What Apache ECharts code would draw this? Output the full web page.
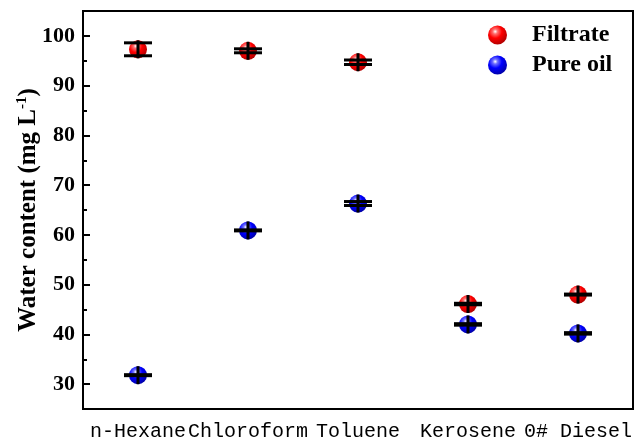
<!DOCTYPE html>
<html>
<head>
<meta charset="utf-8">
<script src="https://cdn.jsdelivr.net/npm/echarts@6/dist/echarts.min.js"></script>
<style>html,body{margin:0;padding:0;background:#fff}#c{width:636px;height:443px}</style>
</head>
<body>
<div id="c"></div>
<script>
const categories = ['n-Hexane', 'Chloroform', 'Toluene', 'Kerosene', '0# Diesel'];
const filtrate = [97.3, 97.0, 94.7, 46.1, 48.0];
const filtrateErr = [1.3, 0.4, 0.45, 0.15, 0.1];
const pureOil = [31.8, 60.9, 66.3, 42.0, 40.2];
const pureOilErr = [0.1, 0.1, 0.4, 0.15, 0.15];
const yMin = 25, yMax = 105;

function sphere(light, main, dark) {
  return {
    type: 'radial', x: 0.38, y: 0.32, r: 0.7,
    colorStops: [
      {offset: 0, color: '#ffffff'},
      {offset: 0.18, color: light},
      {offset: 0.5, color: main},
      {offset: 1, color: dark}
    ]
  };
}
const redSphere = sphere('#ff7070', '#ff0000', '#b00000');
const blueSphere = sphere('#7070ff', '#0000ff', '#0000a8');

function renderErr(params, api) {
  const i = api.value(0), v = api.value(1), e = api.value(2);
  const c = api.coord([i, v]);
  const hi = api.coord([i, v + e]);
  const lo = api.coord([i, v - e]);
  const half = 14, vh = 9;
  const top = Math.min(hi[1], c[1] - vh), bot = Math.max(lo[1], c[1] + vh);
  const st = {stroke: '#000', lineWidth: 3};
  return {type: 'group', children: [
    {type: 'line', shape: {x1: c[0], y1: top, x2: c[0], y2: bot}, style: st},
    {type: 'line', shape: {x1: c[0] - half, y1: hi[1], x2: c[0] + half, y2: hi[1]}, style: st},
    {type: 'line', shape: {x1: c[0] - half, y1: lo[1], x2: c[0] + half, y2: lo[1]}, style: st}
  ]};
}

const serif = '"Liberation Serif", "Times New Roman", serif';
const chart = echarts.init(document.getElementById('c'), null, {renderer: 'canvas'});
chart.setOption({
  animation: false,
  backgroundColor: '#fff',
  grid: {left: 83, right: 3, top: 11, bottom: 34, show: true, borderColor: '#000', borderWidth: 2,
    backgroundColor: 'transparent', containLabel: false, outerBoundsMode: 'none'},
  legend: {
    orient: 'vertical', left: 483, top: 18, itemWidth: 19, itemHeight: 19, itemGap: 6,
    icon: 'circle',
    textStyle: {fontFamily: serif, fontWeight: 'bold', fontSize: 24, color: '#000', padding: [0, 0, 0, 20]},
    data: ['Filtrate', 'Pure oil']
  },
  xAxis: [
    {
      type: 'category', data: categories, boundaryGap: true,
      axisLine: {lineStyle: {color: '#000', width: 2}},
      axisTick: {inside: true, alignWithLabel: true, length: 7, lineStyle: {color: '#000', width: 2}},
      axisLabel: {color: '#000', fontFamily: '"Liberation Mono", "DejaVu Sans Mono", monospace', fontSize: 20, margin: 13, interval: 0, hideOverlap: false},
      splitLine: {show: false}
    },
    {
      type: 'category', data: categories, boundaryGap: true, position: 'bottom',
      axisLine: {show: false},
      axisTick: {inside: true, alignWithLabel: false, length: 3, interval: 0, lineStyle: {color: '#000', width: 2}},
      axisLabel: {show: false},
      splitLine: {show: false}
    }
  ],
  yAxis: [
    {
      type: 'value', min: yMin, max: yMax, minInterval: 10, maxInterval: 10,
      name: 'Water content (mg L{sup|-1})', nameLocation: 'middle', nameGap: 40, nameMoveOverlap: false,
      nameTextStyle: {fontFamily: serif, fontWeight: 'bold', fontSize: 25, color: '#000',
        rich: {sup: {fontFamily: serif, fontWeight: 'bold', fontSize: 15, color: '#000', verticalAlign: 'top', padding: [0, 0, 13, 0]}}},
      axisLine: {show: true, lineStyle: {color: '#000', width: 2}},
      axisTick: {show: true, inside: true, length: 7, lineStyle: {color: '#000', width: 2}},
      axisLabel: {color: '#000', fontFamily: serif, fontWeight: 'bold', fontSize: 22, margin: 8,
        formatter: v => (v % 10 === 0 ? String(v) : '')},
      splitLine: {show: false}
    },
    {
      type: 'value', min: yMin, max: yMax, interval: 5, position: 'left',
      axisLine: {show: false},
      axisTick: {show: true, inside: true, length: 4, lineStyle: {color: '#000', width: 2}},
      axisLabel: {show: false},
      splitLine: {show: false}
    }
  ],
  series: [
    {name: 'Filtrate', type: 'scatter', symbol: 'circle', symbolSize: 18, z: 2,
      itemStyle: {color: redSphere, opacity: 1}, data: filtrate},
    {name: 'Pure oil', type: 'scatter', symbol: 'circle', symbolSize: 18, z: 2,
      itemStyle: {color: blueSphere, opacity: 1}, data: pureOil},
    {name: 'FiltrateErr', type: 'custom', z: 5, renderItem: renderErr,
      encode: {x: 0, y: 1}, data: filtrate.map((v, i) => [i, v, filtrateErr[i]])},
    {name: 'PureErr', type: 'custom', z: 5, renderItem: renderErr,
      encode: {x: 0, y: 1}, data: pureOil.map((v, i) => [i, v, pureOilErr[i]])}
  ]
});
</script>
</body>
</html>
